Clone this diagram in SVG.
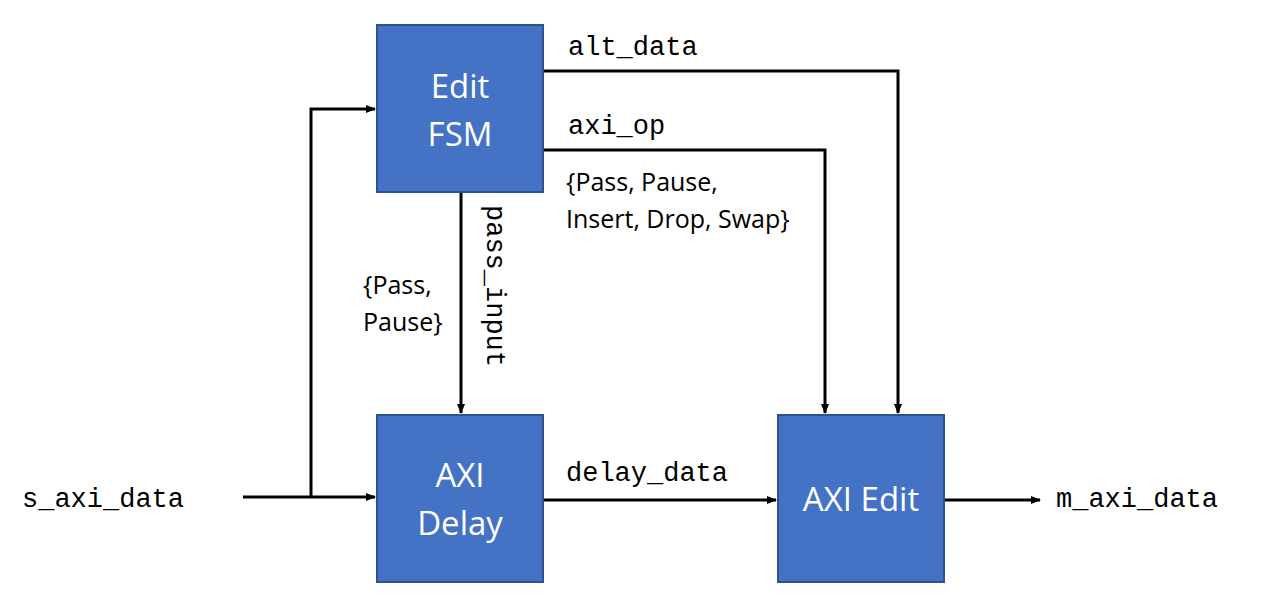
<svg xmlns="http://www.w3.org/2000/svg" width="1280" height="615" viewBox="0 0 1280 615">
<style>
.box{fill:#4472C4;stroke:#2F528F;stroke-width:2}
.bt{font-family:"Open Sans","Noto Sans",sans-serif;font-size:33px;fill:#fff;text-anchor:middle}
.mono{font-family:"Liberation Mono",monospace;font-size:27px;fill:#000}
.lab{font-family:"Open Sans","Noto Sans",sans-serif;font-size:25px;fill:#000}
.ln{fill:none;stroke:#000;stroke-width:3}
</style>
<defs><marker id="a" markerWidth="10" markerHeight="8" refX="9" refY="4" orient="auto" markerUnits="userSpaceOnUse"><path d="M0,0L10,4L0,8z" fill="#000"/></marker></defs>
<rect width="1280" height="615" fill="#fff"/>
<g id="connectors">
<path class="ln" d="M243,497H375" marker-end="url(#a)"/>
<path class="ln" d="M311,497V109H375" marker-end="url(#a)"/>
<path class="ln" d="M543,71H898V413" marker-end="url(#a)"/>
<path class="ln" d="M543,150H825V413" marker-end="url(#a)"/>
<path class="ln" d="M461,192V413" marker-end="url(#a)"/>
<path class="ln" d="M543,500H776" marker-end="url(#a)"/>
<path class="ln" d="M944,500H1040" marker-end="url(#a)"/>
</g>
<g id="fsm"><rect class="box" x="377" y="25" width="166" height="167"/><text class="bt" x="460" y="98">Edit</text><text class="bt" x="460" y="146">FSM</text></g>
<g id="delay"><rect class="box" x="377" y="415" width="166" height="167"/><text class="bt" x="460" y="487">AXI</text><text class="bt" x="460" y="535">Delay</text></g>
<g id="edit"><rect class="box" x="778" y="415" width="166" height="167"/><text class="bt" x="861" y="511">AXI Edit</text></g>
<g id="labels">
<text class="mono" x="22" y="507">s_axi_data</text>
<text class="mono" x="1056" y="507">m_axi_data</text>
<text class="mono" x="568" y="55">alt_data</text>
<text class="mono" x="568" y="134">axi_op</text>
<text class="mono" x="566" y="481">delay_data</text>
<text class="mono" transform="translate(487,205) rotate(90)">pass_input</text>
<text class="lab" x="566" y="191">{Pass, Pause,</text>
<text class="lab" x="566" y="228">Insert, Drop, Swap}</text>
<text class="lab" x="363" y="294">{Pass,</text>
<text class="lab" x="363" y="331">Pause}</text>
</g>
</svg>
